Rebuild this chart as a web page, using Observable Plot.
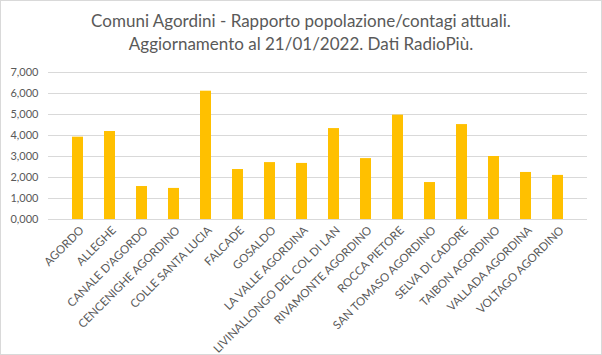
<!DOCTYPE html>
<html><head><meta charset="utf-8">
<script src="https://cdn.jsdelivr.net/npm/d3@7"></script>
<script src="https://cdn.jsdelivr.net/npm/@observablehq/plot@0.6"></script>
<style>
html,body{margin:0;padding:0;background:#fff;}
#wrap{position:relative;width:602px;height:355px;box-sizing:border-box;border:1px solid #d9d9d9;overflow:hidden;background:#fff;}
#title{height:55px;text-align:center;font-family:Lato,"Open Sans",sans-serif;font-size:17px;color:#595959;line-height:23px;padding-top:8px;box-sizing:border-box;}
#chart svg{display:block;}
</style></head>
<body><div id="wrap"><div id="title">Comuni Agordini - Rapporto popolazione/contagi attuali.<br>Aggiornamento al 21/01/2022. Dati RadioPiù.</div><div id="chart"></div></div>
<script>
const comuni = ["AGORDO","ALLEGHE","CANALE D'AGORDO","CENCENIGHE AGORDINO","COLLE SANTA LUCIA","FALCADE","GOSALDO","LA VALLE AGORDINA","LIVINALLONGO DEL COL DI LAN","RIVAMONTE AGORDINO","ROCCA PIETORE","SAN TOMASO AGORDINO","SELVA DI CADORE","TAIBON AGORDINO","VALLADA AGORDINA","VOLTAGO AGORDINO"];
const rapporto = [3.92,4.19,1.57,1.48,6.11,2.38,2.71,2.67,4.33,2.90,4.97,1.76,4.52,3.00,2.24,2.10];
const yTicks = [0,1,2,3,4,5,6,7];

const data = comuni.map((c,i)=>({comune:c, valore:rapporto[i]}));
const fmt = v => d3.format(".3f")(v).replace(".", ",");

const chart = Plot.plot({
  width: 600,
  height: 298,
  marginTop: 16,
  marginBottom: 135,
  marginLeft: 47,
  marginRight: 14,
  style: {fontFamily: "Lato, 'Open Sans', sans-serif", fontSize: "11px", color: "#595959", background: "#fff"},
  x: {domain: comuni, padding: 0.67, label: null},
  y: {domain: [0,7], label: null},
  marks: [
    Plot.gridY(yTicks, {stroke: "#d9d9d9", strokeOpacity: 1}),
    Plot.barY(data, {x: "comune", y: "valore", fill: "#ffc000"}),
    Plot.axisY({ticks: yTicks, tickFormat: fmt, tickSize: 0, tickPadding: 10, label: null, fontSize: 11}),
    Plot.axisX({tickSize: 0, tickPadding: 9, tickRotate: -45, label: null, fontSize: 11.5, dx: 4})
  ]
});
document.getElementById("chart").appendChild(chart);
</script></body></html>
